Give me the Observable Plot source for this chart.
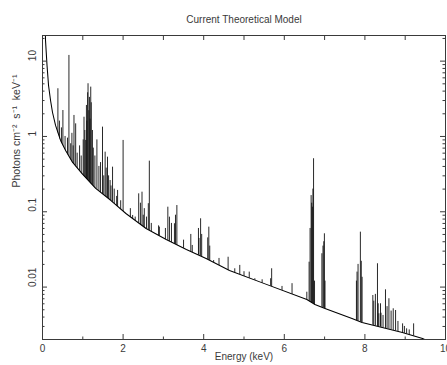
<!DOCTYPE html>
<html><head><meta charset="utf-8">
<script src="https://cdn.jsdelivr.net/npm/d3@7"></script>
<script src="https://cdn.jsdelivr.net/npm/@observablehq/plot@0.6"></script>
<style>html,body{margin:0;padding:0;background:#fff}svg{display:block}</style>
</head><body><div id="chart"></div>
<script>
const title = "Current Theoretical Model";
const xLabel = "Energy (keV)";
const yLabel = "Photons cm\u207B\u00B2  s\u207B\u00B9  keV\u207B\u00B9";

const xMajor = [0, 2, 4, 6, 8, 10];
const xMajorLabels = ["0", "2", "4", "6", "8", "10"];
const xMinor = [1, 3, 5, 7, 9];
const yMajor = [0.01, 0.1, 1, 10];
const yMajorLabels = ["0.01", "0.1", "1", "10"];
const yMinor = [0.003,0.004,0.005,0.006,0.007,0.008,0.009,
                0.02,0.03,0.04,0.05,0.06,0.07,0.08,0.09,
                0.2,0.3,0.4,0.5,0.6,0.7,0.8,0.9,
                2,3,4,5,6,7,8,9,20];

// continuum (keV, photons cm^-2 s^-1 keV^-1)
const contEnergy = [0.07, 0.075, 0.112, 0.15, 0.2, 0.249, 0.324, 0.449, 0.574, 0.748, 0.998, 1.32, 1.70, 2.07, 2.57, 3.07, 3.57, 4.06, 4.64, 5.49, 6.56, 6.76, 7.01, 7.68, 7.93, 8.43, 8.93, 9.43, 9.58, 9.7];
const contFlux   = [26, 18.8, 8.8, 4.75, 3.0, 2.08, 1.40, 0.885, 0.652, 0.452, 0.313, 0.204, 0.141, 0.0949, 0.060, 0.0429, 0.0316, 0.024, 0.0166, 0.0112, 0.00685, 0.00587, 0.0052, 0.00383, 0.00339, 0.0029, 0.00249, 0.00208, 0.0019, 0.0018];

// emission lines: energy (keV) and peak flux
const lineEnergy = [
  0.382, 0.42, 0.47, 0.506, 0.56, 0.62, 0.656, 0.70, 0.73, 0.76, 0.781, 0.823, 0.86, 0.92, 0.96,
  1.01, 1.030, 1.05, 1.072, 1.090, 1.10, 1.12, 1.130, 1.15, 1.165, 1.18, 1.197, 1.21, 1.239, 1.26, 1.30, 1.35, 1.40, 1.44,
  1.489, 1.52, 1.554, 1.58, 1.613, 1.64, 1.678, 1.70, 1.738, 1.78, 1.84, 1.863, 1.94, 2.000,
  2.18, 2.237, 2.30, 2.387, 2.43, 2.469, 2.50, 2.526, 2.58, 2.626, 2.651, 2.70, 2.88, 2.900,
  3.05, 3.110, 3.150, 3.20, 3.274, 3.30, 3.334, 3.50, 3.68, 3.716, 3.87, 3.883, 3.923, 3.95,
  4.10, 4.127, 4.15, 4.247, 4.38, 4.606, 4.771, 4.895, 5.0, 5.130, 5.269, 5.45, 5.661, 5.686,
  5.943, 6.192, 6.559, 6.616, 6.64, 6.666, 6.68, 6.696, 6.71, 6.726, 6.75,
  6.933, 6.96, 6.98, 6.995, 7.01, 7.79, 7.805, 7.83, 7.888, 7.91, 7.930,
  8.197, 8.22, 8.26, 8.312, 8.33, 8.347, 8.387, 8.40, 8.45, 8.511, 8.55, 8.596, 8.65, 8.703, 8.761, 8.82,
  8.935, 8.98, 9.035, 9.10, 9.209
];
const linePeak = [
  4.30, 1.6, 1.3, 2.21, 1.0, 0.95, 11.9, 0.8, 1.1, 0.75, 1.90, 1.47, 0.6, 0.75, 0.55,
  0.9, 1.80, 1.2, 0.885, 2.58, 1.6, 3.8, 5.01, 2.2, 3.30, 1.7, 4.52, 2.8, 1.20, 0.7, 0.55, 0.9, 0.4, 0.45,
  1.33, 0.3, 0.619, 0.38, 0.531, 0.3, 0.26, 0.22, 0.391, 0.2, 0.16, 0.192, 0.14, 0.885,
  0.11, 0.0893, 0.085, 0.173, 0.13, 0.182, 0.09, 0.110, 0.085, 0.128, 0.470, 0.07, 0.065, 0.0625,
  0.06, 0.115, 0.0848, 0.07, 0.0693, 0.09, 0.121, 0.042, 0.05, 0.0357, 0.06, 0.0442, 0.0807, 0.05,
  0.045, 0.0625, 0.035, 0.0225, 0.024, 0.0249, 0.0175, 0.0194, 0.016, 0.0158, 0.0129, 0.0125, 0.0129, 0.0175,
  0.0102, 0.0111, 0.00855, 0.0214, 0.06, 0.164, 0.13, 0.115, 0.2, 0.506, 0.012,
  0.0277, 0.035, 0.04, 0.0510, 0.012, 0.012, 0.0158, 0.02, 0.0536, 0.022, 0.0135,
  0.00773, 0.0065, 0.008, 0.0204, 0.006, 0.00442, 0.006, 0.0045, 0.0042, 0.0092, 0.0055, 0.0070, 0.0048, 0.00515, 0.00489, 0.0035,
  0.00325, 0.0030, 0.00279, 0.0027, 0.00325
];

const continuum = contEnergy.map((e, i) => ({energy: e, flux: contFlux[i]}));
const lines = lineEnergy.map((e, i) => ({energy: e, flux: linePeak[i]}));

const yMin = 0.002014, yMax = 21.9;
const ink = "#3a3a3a";
const H = 365, W = 447, mT = 35, mB = 26, mL = 42, mR = 2;
const fh = H - mT - mB, fw = W - mL - mR;

const chart = Plot.plot({
  width: W, height: H,
  marginTop: mT, marginBottom: mB, marginLeft: mL, marginRight: mR,
  x: {domain: [0, 10], axis: null},
  y: {type: "log", domain: [yMin, yMax], axis: null},
  style: {fontFamily: "'Liberation Sans', Arial, sans-serif", fontSize: "10px", background: "white", color: ink, overflow: "visible"},
  marks: [
    Plot.ruleX(lines, {x: "energy", y1: yMin, y2: "flux", stroke: "#111", strokeWidth: 0.9, clip: true}),
    Plot.areaY(continuum, {x: "energy", y1: yMin, y2: "flux", fill: "white", clip: true}),
    Plot.line(continuum, {x: "energy", y: "flux", stroke: "black", strokeWidth: 1.05, clip: true}),
    // inward ticks
    Plot.ruleX(xMajor, {x: d => d, stroke: ink, insetTop: fh - 5}),
    Plot.ruleX(xMinor, {x: d => d, stroke: ink, insetTop: fh - 2.5}),
    Plot.ruleX(xMajor, {x: d => d, stroke: ink, insetBottom: fh - 5}),
    Plot.ruleX(xMinor, {x: d => d, stroke: ink, insetBottom: fh - 5}),
    Plot.ruleY(yMajor, {y: d => d, stroke: ink, insetRight: fw - 5}),
    Plot.ruleY(yMinor, {y: d => d, stroke: ink, insetRight: fw - 2.5}),
    Plot.ruleY(yMajor, {y: d => d, stroke: ink, insetLeft: fw - 5}),
    Plot.ruleY(yMinor, {y: d => d, stroke: ink, insetLeft: fw - 2.5}),
    Plot.frame({stroke: ink, strokeWidth: 1}),
    // tick labels
    Plot.text(xMajor, {x: d => d, text: (d, i) => xMajorLabels[i], frameAnchor: "bottom", dy: 12, fill: ink, fontSize: 10}),
    Plot.text(yMajor, {y: d => d, text: (d, i) => yMajorLabels[i], frameAnchor: "left", dx: -10, rotate: -90, fill: ink, fontSize: 10}),
    // axis titles
    Plot.text([xLabel], {text: d => d, frameAnchor: "bottom", dy: 20, fill: ink, fontSize: 10}),
    Plot.text([yLabel], {text: d => d, frameAnchor: "left", dx: -26, rotate: -90, fill: ink, fontSize: 10.5}),
    Plot.text([title], {text: d => d, frameAnchor: "top", dy: -20, fill: ink, fontSize: 10})
  ]
});
document.getElementById("chart").appendChild(chart);
</script>
</body></html>
